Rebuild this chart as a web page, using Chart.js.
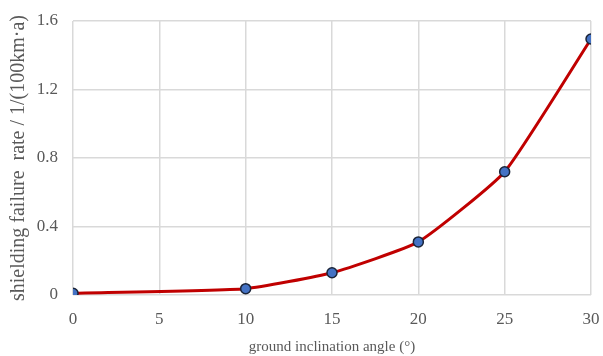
<!DOCTYPE html>
<html>
<head>
<meta charset="utf-8">
<script src="https://cdn.jsdelivr.net/npm/chart.js@4"></script>
<style>
  html, body { margin: 0; padding: 0; background: #fff; }
  #wrap { width: 603px; height: 356px; }
</style>
</head>
<body>
<div id="wrap"><canvas id="chart" width="603" height="356"></canvas></div>
<script>
// Data
const angles = [0, 10, 15, 20, 25, 30];
const failureRates = [0.01, 0.037, 0.13, 0.31, 0.72, 1.495];
const xTicks = [0, 5, 10, 15, 20, 25, 30];
const yTicks = [0, 0.4, 0.8, 1.2, 1.6];

const ctx = document.getElementById('chart').getContext('2d');

const serif = 'Liberation Serif, Times New Roman, serif';
const textGray = '#595959';
const gridGray = '#d9d9d9';

new Chart(ctx, {
  type: 'line',
  data: {
    datasets: [{
      label: 'shielding failure rate',
      data: angles.map((a, i) => ({ x: a, y: failureRates[i] })),
      borderColor: '#c00000',
      borderWidth: 3,
      backgroundColor: '#4472c4',
      pointBackgroundColor: '#4472c4',
      pointBorderColor: '#1a2438',
      pointBorderWidth: 1.5,
      pointRadius: 5,
      tension: 0.15,
      fill: false
    }]
  },
  options: {
    responsive: false,
    animation: false,
    layout: { padding: { left: 0, right: 12, top: 21, bottom: 0 } },
    plugins: {
      legend: { display: false },
      tooltip: { enabled: false }
    },
    scales: {
      x: {
        type: 'linear',
        min: 0,
        max: 30,
        afterBuildTicks: axis => { axis.ticks = xTicks.map(v => ({ value: v })); },
        afterFit: axis => {
          axis.height = 61;
          axis.paddingLeft = 0;
          axis.paddingRight = 0;
        },
        grid: { color: gridGray, lineWidth: 1.5, drawTicks: false },
        border: { display: false },
        ticks: {
          color: textGray,
          padding: 14,
          font: { family: serif, size: 17 }
        },
        title: {
          display: true,
          text: 'ground inclination angle (°)',
          color: textGray,
          padding: { top: 0, bottom: 0 },
          font: { family: serif, size: 15 }
        }
      },
      y: {
        min: 0,
        max: 1.6,
        afterBuildTicks: axis => { axis.ticks = yTicks.map(v => ({ value: v })); },
        afterFit: axis => {
          axis.width = 73;
          axis.paddingTop = 0;
          axis.paddingBottom = 0;
        },
        grid: { color: gridGray, lineWidth: 1.5, drawTicks: false },
        border: { display: false },
        ticks: {
          color: textGray,
          padding: 15,
          font: { family: serif, size: 17 },
          callback: v => v === 0 ? '0' : v.toFixed(1)
        },
        title: {
          display: true,
          text: 'shielding failure  rate / 1/(100km·a)',
          color: textGray,
          padding: { top: 7, bottom: 0 },
          font: { family: serif, size: 20 }
        }
      }
    }
  }
});
</script>
</body>
</html>
